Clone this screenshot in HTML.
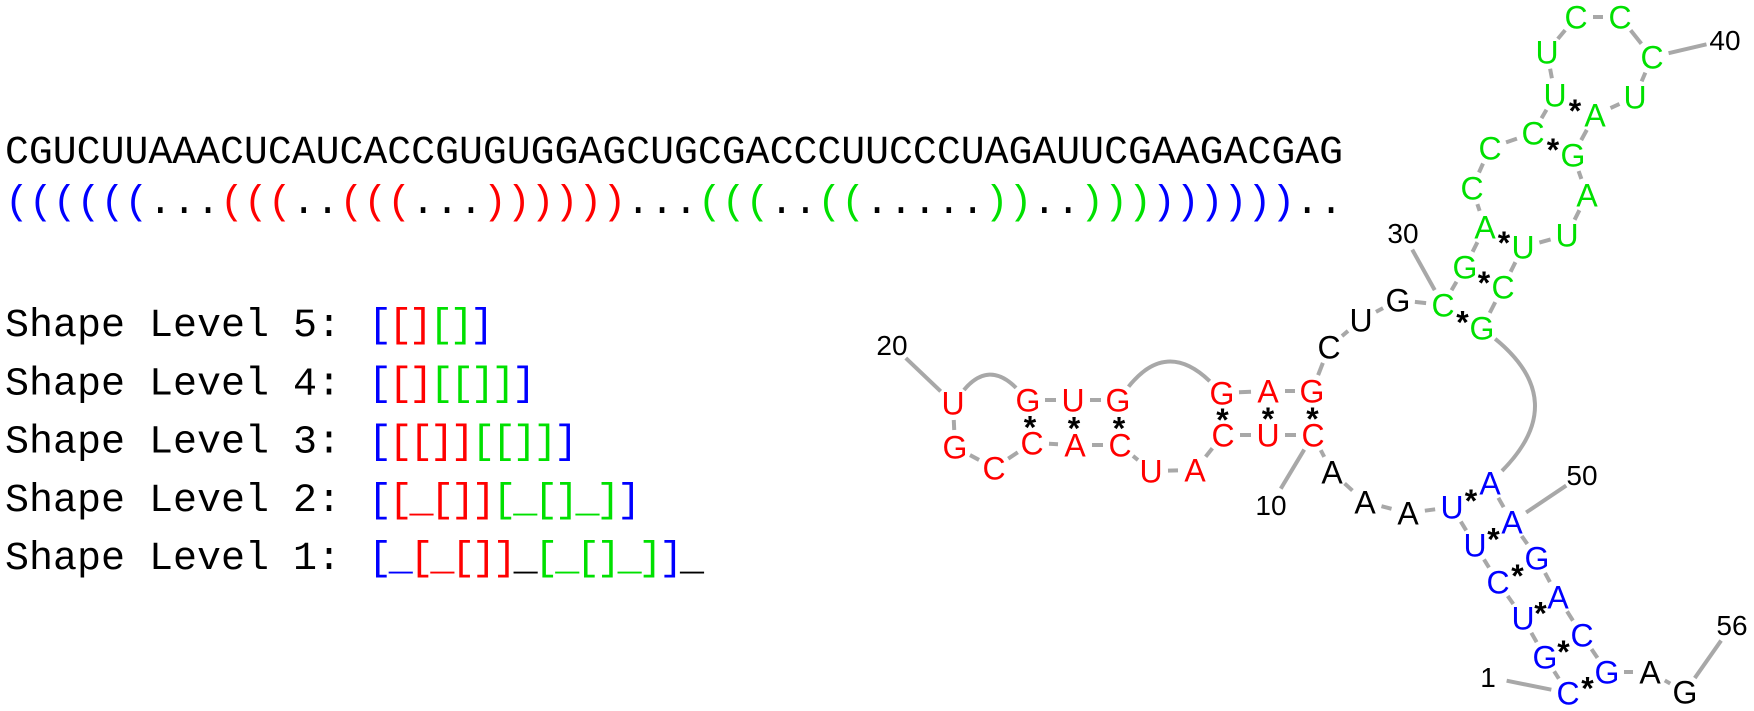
<!DOCTYPE html>
<html><head><meta charset="utf-8"><style>
html,body{margin:0;padding:0;background:#fff}
svg{display:block}
</style></head><body>
<svg id="chart" width="1754" height="711" viewBox="0 0 1754 711" xmlns="http://www.w3.org/2000/svg">
<g id="left" font-family="'Liberation Mono', monospace" font-size="40">
<text x="5" y="163" textLength="1338" lengthAdjust="spacingAndGlyphs">CGUCUUAAACUCAUCACCGUGUGGAGCUGCGACCCUUCCCUAGAUUCGAAGACGAG</text>
<text id="dotbr" x="5" y="213" textLength="1338" lengthAdjust="spacingAndGlyphs"></text>
</g>
<g id="shapes" font-family="'Liberation Mono', monospace" font-size="40"></g>
<g id="lines" stroke="#a8a8a8" stroke-width="4" fill="none"></g>
<g id="marks" font-family="'Liberation Sans', sans-serif" font-size="32" text-anchor="middle"></g>
</svg>
<script>
const sequence = "CGUCUUAAACUCAUCACCGUGUGGAGCUGCGACCCUUCCCUAGAUUCGAAGACGAG";
const structure = "((((((...(((..(((...))))))...(((..((.....))..)))))))))..";
const domainOf = "BBBBBBKKKRRRRRRRRRRRRRRRRRKKKGGGGGGGGGGGGGGGGGGGBBBBBBKK";
const shapeLevels = [
  ["Shape Level 5: ", "[[][]]", "BRRGGB"],
  ["Shape Level 4: ", "[[][[]]]", "BRRGGGGB"],
  ["Shape Level 3: ", "[[[]][[]]]", "BRRRRGGGGB"],
  ["Shape Level 2: ", "[[_[]][_[]_]]", "BRRRRRGGGGGGB"],
  ["Shape Level 1: ", "[_[_[]]_[_[]_]]_", "BBRRRRRKGGGGGGBK"]
];
const nx = [1568,1545,1523,1498,1475,1452,1408,1365,1332,1313,1268,1223,1195,1151,1120,1075,1032,994,955,953,1028,1073,1118,1222,1268,1312,1329,1361,1398,1443,1465,1485,1472,1490,1533,1555,1547,1576,1620,1652,1635,1595,1573,1587,1567,1523,1503,1482,1490,1512,1537,1558,1582,1607,1650,1685];
const ny = [693,657,618,582,545,507,513,502,472,435,435,435,470,471,445,445,443,468,447,403,400,400,400,393,391,391,347,320,300,305,267,227,188,148,133,95,52,17,17,57,97,115,155,195,235,247,287,328,483,522,558,597,635,672,672,692];
const labelNums = [1,10,20,30,40,50,56];
const labelX = [1488,1271,892,1403,1725,1582,1732];
const labelY = [677,505,345,233,40,475,625];
const colors = {B:"#0000ff",R:"#ff0000",G:"#00e000",K:"#000000"};
const NS = "http://www.w3.org/2000/svg";

const db = document.getElementById('dotbr');
for (let i=0;i<structure.length;i++){
  const t=document.createElementNS(NS,'tspan');
  
  
  const c=structure[i];
  t.setAttribute('fill', c==='.'?'#000':colors[domainOf[i]]);
  t.textContent=c; db.appendChild(t);
}
const sg=document.getElementById('shapes');
shapeLevels.forEach((lv,k)=>{
  const y=336+k*58.3;
  const lab=document.createElementNS(NS,'text');
  
  
  lab.setAttribute('x',5); lab.setAttribute('y',y);
  lab.textContent=lv[0].trim(); sg.appendChild(lab);
  const br=document.createElementNS(NS,'text');
  
  
  br.setAttribute('x',368); br.setAttribute('y',y);
  br.setAttribute('textLength', lv[1].length*21);
  br.setAttribute('lengthAdjust','spacing');
  for(let i=0;i<lv[1].length;i++){
    const t=document.createElementNS(NS,'tspan');
    
    
    t.setAttribute('fill',colors[lv[2][i]]);
    t.textContent=lv[1][i]; br.appendChild(t);
  }
  sg.appendChild(br);
});
const pairs=[];const st=[];
for(let i=0;i<structure.length;i++){if(structure[i]==='(')st.push(i);else if(structure[i]===')'){pairs.push([st.pop(),i]);}}
const lg=document.getElementById('lines');
function seg(x1,y1,x2,y2,t1,t2){
  const dx=x2-x1,dy=y2-y1,d=Math.hypot(dx,dy);
  if(d<t1+t2+4)return;
  const l=document.createElementNS(NS,'line');
  
  
  l.setAttribute('x1',x1+dx/d*t1);l.setAttribute('y1',y1+dy/d*t1);
  l.setAttribute('x2',x2-dx/d*t2);l.setAttribute('y2',y2-dy/d*t2);
  lg.appendChild(l);
}
function arc(i,j){
  const x1=nx[i],y1=ny[i],x2=nx[j],y2=ny[j];
  const mx=(x1+x2)/2,my=(y1+y2)/2,dx=x2-x1,dy=y2-y1,d=Math.hypot(dx,dy);
  const px=dy/d,py=-dx/d; const h=d*0.55;
  const cx=mx+px*h,cy=my+py*h;
  const a1=Math.hypot(cx-x1,cy-y1),a2=Math.hypot(cx-x2,cy-y2);
  const sx=x1+(cx-x1)/a1*17,sy=y1+(cy-y1)/a1*17,ex=x2+(cx-x2)/a2*17,ey=y2+(cy-y2)/a2*17;
  const p=document.createElementNS(NS,'path');
  
  
  p.setAttribute('d',`M${sx},${sy} Q${cx},${cy} ${ex},${ey}`);
  lg.appendChild(p);
}
const arcs={19:1,22:1,47:1};
for(let i=0;i<sequence.length-1;i++){
  if(arcs[i])arc(i,i+1); else seg(nx[i],ny[i],nx[i+1],ny[i+1],17,17);
}
labelNums.forEach((n,k)=>seg(nx[n-1],ny[n-1],labelX[k],labelY[k],17,19));
const mg=document.getElementById('marks');
for(let i=0;i<sequence.length;i++){
  const t=document.createElementNS(NS,'text');
  
  
  t.setAttribute('x',nx[i]);t.setAttribute('y',ny[i]+11.5);
  t.setAttribute('fill',colors[domainOf[i]]);
  t.textContent=sequence[i];mg.appendChild(t);
}
pairs.forEach(p=>{
  const t=document.createElementNS(NS,'text');
  
  
  t.setAttribute('x',(nx[p[0]]+nx[p[1]])/2);
  t.setAttribute('y',(ny[p[0]]+ny[p[1]])/2+17);
  t.setAttribute('fill','#000');
  t.setAttribute('font-size','32');
  t.setAttribute('font-weight','bold');
  t.textContent='*';mg.appendChild(t);
});
labelNums.forEach((n,k)=>{
  const t=document.createElementNS(NS,'text');
  
  
  t.setAttribute('x',labelX[k]);t.setAttribute('y',labelY[k]+10);
  t.setAttribute('fill','#000');
  t.setAttribute('font-size','28');
  t.textContent=String(n);mg.appendChild(t);
});
</script>
</body></html>
